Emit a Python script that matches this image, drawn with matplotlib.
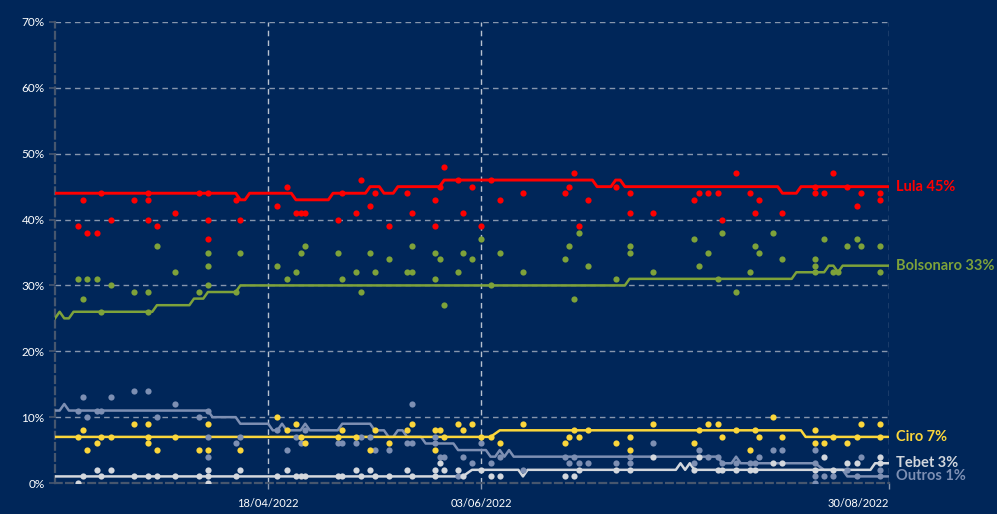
import matplotlib
matplotlib.use('Agg')
import matplotlib.pyplot as plt
from datetime import datetime

plt.rcParams['font.family'] = ['Lato', 'DejaVu Sans']

BG = '#002659'
GRID = '#8796ad'
AXIS = '#46566e'


def dt(s):
    return datetime.strptime(s + '/2022', '%d/%m/%Y')


# poll results (date, %)
lula_polls = [('08/03', 39), ('09/03', 43), ('10/03', 38), ('12/03', 38), ('13/03', 44), ('15/03', 40),
              ('20/03', 43), ('23/03', 44), ('23/03', 43), ('23/03', 40), ('25/03', 39), ('29/03', 41),
              ('03/04', 44), ('05/04', 44), ('05/04', 40), ('05/04', 37), ('11/04', 43), ('12/04', 40),
              ('20/04', 42), ('22/04', 45), ('24/04', 41), ('25/04', 41), ('26/04', 41), ('03/05', 40),
              ('04/05', 44), ('07/05', 41), ('08/05', 46), ('10/05', 42), ('11/05', 44), ('14/05', 39),
              ('18/05', 44), ('19/05', 41), ('24/05', 43), ('24/05', 39), ('25/05', 45), ('26/05', 48),
              ('29/05', 46), ('30/05', 41), ('01/06', 45), ('03/06', 39), ('05/06', 46), ('07/06', 43),
              ('12/06', 44), ('21/06', 44), ('22/06', 45), ('23/06', 47), ('24/06', 39), ('26/06', 43),
              ('02/07', 45), ('05/07', 44), ('05/07', 41), ('10/07', 41), ('19/07', 43), ('20/07', 44),
              ('22/07', 44), ('24/07', 44), ('25/07', 40), ('28/07', 47), ('31/07', 44), ('01/08', 41),
              ('02/08', 43), ('07/08', 41), ('14/08', 45), ('14/08', 44), ('16/08', 44), ('18/08', 47),
              ('21/08', 45), ('23/08', 42), ('24/08', 44), ('28/08', 44), ('28/08', 43)]

bolsonaro_polls = [('08/03', 31), ('09/03', 28), ('10/03', 31), ('12/03', 31), ('13/03', 26), ('15/03', 30),
                   ('20/03', 29), ('23/03', 29), ('23/03', 26), ('25/03', 36), ('29/03', 32), ('03/04', 29),
                   ('05/04', 35), ('05/04', 33), ('05/04', 30), ('11/04', 29), ('12/04', 35), ('20/04', 33),
                   ('22/04', 31), ('24/04', 32), ('25/04', 35), ('26/04', 36), ('03/05', 35), ('04/05', 31),
                   ('07/05', 32), ('08/05', 29), ('10/05', 35), ('11/05', 32), ('14/05', 34), ('18/05', 32),
                   ('19/05', 32), ('19/05', 36), ('24/05', 35), ('24/05', 31), ('25/05', 34), ('26/05', 27),
                   ('29/05', 32), ('30/05', 35), ('01/06', 34), ('03/06', 37), ('05/06', 30), ('07/06', 35),
                   ('12/06', 32), ('21/06', 34), ('22/06', 36), ('23/06', 28), ('24/06', 38), ('26/06', 33),
                   ('02/07', 31), ('05/07', 36), ('05/07', 35), ('10/07', 32), ('19/07', 37), ('20/07', 33),
                   ('22/07', 35), ('24/07', 31), ('25/07', 38), ('28/07', 29), ('31/07', 32), ('01/08', 36),
                   ('02/08', 35), ('05/08', 38), ('07/08', 34), ('14/08', 34), ('14/08', 33), ('14/08', 32),
                   ('16/08', 37), ('18/08', 32), ('19/08', 32), ('21/08', 36), ('23/08', 37), ('24/08', 36),
                   ('28/08', 36), ('28/08', 32)]

ciro_polls = [('08/03', 7), ('09/03', 8), ('10/03', 5), ('12/03', 6), ('13/03', 7), ('15/03', 7),
              ('20/03', 9), ('23/03', 9), ('23/03', 7), ('23/03', 6), ('25/03', 5), ('29/03', 7),
              ('03/04', 5), ('05/04', 9), ('05/04', 5), ('12/04', 5), ('20/04', 10), ('22/04', 8),
              ('24/04', 9), ('25/04', 7), ('26/04', 6), ('03/05', 7), ('04/05', 8), ('07/05', 7),
              ('10/05', 5), ('11/05', 8), ('14/05', 6), ('18/05', 8), ('19/05', 9), ('24/05', 8),
              ('24/05', 5), ('25/05', 8), ('26/05', 7), ('29/05', 9), ('30/05', 8), ('01/06', 9),
              ('03/06', 7), ('05/06', 7), ('07/06', 6), ('12/06', 9), ('21/06', 6), ('22/06', 7),
              ('23/06', 8), ('24/06', 7), ('26/06', 8), ('02/07', 6), ('05/07', 7), ('05/07', 5),
              ('10/07', 9), ('19/07', 6), ('20/07', 8), ('22/07', 9), ('24/07', 9), ('25/07', 7),
              ('28/07', 8), ('31/07', 5), ('01/08', 8), ('02/08', 7), ('05/08', 10), ('07/08', 7),
              ('14/08', 8), ('14/08', 6), ('16/08', 6), ('18/08', 7), ('21/08', 6), ('23/08', 7),
              ('24/08', 9), ('28/08', 9), ('28/08', 7)]

tebet_polls = [('08/03', 0), ('09/03', 1), ('12/03', 2), ('13/03', 1), ('15/03', 2), ('20/03', 1),
               ('23/03', 1), ('25/03', 1), ('29/03', 1), ('03/04', 1), ('05/04', 2), ('05/04', 1),
               ('05/04', 0), ('11/04', 1), ('12/04', 2), ('20/04', 1), ('22/04', 2), ('24/04', 1),
               ('25/04', 1), ('26/04', 1), ('03/05', 1), ('04/05', 1), ('07/05', 2), ('08/05', 1),
               ('10/05', 2), ('11/05', 1), ('14/05', 1), ('18/05', 2), ('19/05', 1), ('24/05', 2),
               ('24/05', 1), ('25/05', 3), ('26/05', 2), ('29/05', 2), ('30/05', 1), ('03/06', 2),
               ('05/06', 1), ('07/06', 1), ('21/06', 1), ('23/06', 1), ('24/06', 2), ('02/07', 2),
               ('05/07', 2), ('10/07', 4), ('19/07', 2), ('20/07', 4), ('24/07', 2), ('25/07', 2),
               ('28/07', 2), ('31/07', 2), ('01/08', 2), ('05/08', 3), ('07/08', 3), ('14/08', 2),
               ('16/08', 4), ('18/08', 2), ('21/08', 3), ('23/08', 3), ('28/08', 4), ('28/08', 3)]

outros_polls = [('08/03', 11), ('09/03', 13), ('10/03', 10), ('12/03', 11), ('13/03', 11), ('15/03', 13),
                ('20/03', 14), ('23/03', 14), ('25/03', 10), ('29/03', 12), ('03/04', 10), ('05/04', 11),
                ('05/04', 7), ('05/04', 4), ('11/04', 6), ('12/04', 7), ('20/04', 8), ('22/04', 5),
                ('24/04', 7), ('25/04', 6), ('26/04', 8), ('03/05', 6), ('04/05', 6), ('07/05', 6),
                ('08/05', 7), ('10/05', 7), ('11/05', 5), ('14/05', 5), ('18/05', 6), ('19/05', 6),
                ('19/05', 12), ('24/05', 7), ('24/05', 6), ('25/05', 4), ('26/05', 4), ('29/05', 1),
                ('30/05', 4), ('01/06', 3), ('03/06', 6), ('05/06', 3), ('07/06', 4), ('12/06', 2),
                ('21/06', 4), ('22/06', 3), ('23/06', 4), ('24/06', 3), ('26/06', 3), ('02/07', 3),
                ('05/07', 4), ('05/07', 3), ('10/07', 6), ('19/07', 3), ('20/07', 5), ('22/07', 4),
                ('24/07', 4), ('25/07', 3), ('28/07', 3), ('31/07', 3), ('01/08', 3), ('02/08', 4),
                ('05/08', 5), ('07/08', 5), ('14/08', 5), ('14/08', 3), ('14/08', 1), ('14/08', 0),
                ('16/08', 1), ('18/08', 1), ('21/08', 2), ('23/08', 1), ('24/08', 4), ('28/08', 2),
                ('28/08', 1)]

# trend line (aggregate), vertices
lula_trend = [('03/03', 44), ('11/04', 44), ('12/04', 43), ('13/04', 43), ('14/04', 44), ('23/04', 44),
              ('24/04', 43), ('01/05', 43), ('02/05', 44), ('09/05', 44), ('10/05', 45), ('12/05', 45),
              ('13/05', 44), ('15/05', 44), ('16/05', 45), ('25/05', 45), ('26/05', 46), ('27/06', 46),
              ('28/06', 45), ('01/07', 45), ('02/07', 46), ('03/07', 46), ('04/07', 45), ('06/08', 45),
              ('07/08', 44), ('10/08', 44), ('11/08', 45), ('30/08', 45)]

bolsonaro_trend = [('03/03', 25), ('04/03', 26), ('05/03', 25), ('06/03', 25), ('07/03', 26), ('24/03', 26),
                   ('25/03', 27), ('01/04', 27), ('02/04', 28), ('04/04', 28), ('05/04', 29), ('11/04', 29),
                   ('12/04', 30), ('04/07', 30), ('05/07', 31), ('09/08', 31), ('10/08', 32), ('16/08', 32),
                   ('17/08', 33), ('18/08', 33), ('19/08', 32), ('20/08', 33), ('30/08', 33)]

ciro_trend = [('03/03', 7), ('05/06', 7), ('07/06', 8), ('11/08', 8), ('12/08', 7), ('30/08', 7)]

tebet_trend = [('03/03', 1), ('30/05', 1), ('01/06', 2), ('11/06', 2), ('12/06', 1), ('13/06', 2),
               ('15/07', 2), ('16/07', 3), ('17/07', 2), ('18/07', 3), ('19/07', 2), ('26/08', 2),
               ('27/08', 3), ('30/08', 3)]

outros_trend = [('03/03', 11), ('04/03', 11), ('05/03', 12), ('06/03', 11), ('05/04', 11), ('06/04', 10),
                ('11/04', 10), ('12/04', 9), ('18/04', 9), ('19/04', 8), ('20/04', 8), ('21/04', 9),
                ('22/04', 8), ('25/04', 8), ('26/04', 9), ('27/04', 8), ('03/05', 8), ('04/05', 9),
                ('10/05', 9), ('11/05', 8), ('13/05', 8), ('14/05', 7), ('15/05', 7), ('16/05', 8),
                ('17/05', 8), ('18/05', 7), ('21/05', 7), ('22/05', 6), ('28/05', 6), ('29/05', 5),
                ('04/06', 5), ('05/06', 4), ('06/06', 4), ('07/06', 5), ('08/06', 4), ('09/06', 5),
                ('10/06', 4), ('24/07', 4), ('25/07', 3), ('27/07', 3), ('28/07', 4), ('29/07', 3),
                ('14/08', 3), ('16/08', 2), ('20/08', 2), ('21/08', 1), ('30/08', 1)]

names = ['Outros', 'Tebet', 'Ciro', 'Bolsonaro', 'Lula']
colors = ['#7d8fb3', '#d3d7dd', '#fbd63b', '#7ea23a', '#ff0000']
widths = [1.8, 1.8, 1.8, 1.8, 2.1]
polls = [outros_polls, tebet_polls, ciro_polls, bolsonaro_polls, lula_polls]
trends = [outros_trend, tebet_trend, ciro_trend, bolsonaro_trend, lula_trend]

x_start, x_end = '03/03', '30/08'
xtick_dates = ['18/04', '03/06', '30/08']
xtick_labels = ['18/04/2022', '03/06/2022', '30/08/2022']

fig = plt.figure(figsize=(9.97, 5.14), dpi=100, facecolor=BG)
ax = fig.add_axes([55 / 997, 31 / 514, 834 / 997, 461 / 514])
ax.set_facecolor(BG)

for name, c, lw, pl, tr in zip(names, colors, widths, polls, trends):
    ax.scatter([dt(d) for d, v in pl], [v for d, v in pl], s=20, color=c, linewidths=0, zorder=4)
    ax.plot([dt(d) for d, v in tr], [v for d, v in tr], color=c, lw=lw, zorder=3)
    last = tr[-1][1]
    ax.annotate('%s %d%%' % (name, last), xy=(1, last), xycoords=('axes fraction', 'data'),
                xytext=(5, 0), textcoords='offset points', va='center', ha='left',
                color=c, fontsize=10.5, fontweight='bold', annotation_clip=False)

ax.set_xlim(dt(x_start), dt(x_end))
ax.set_ylim(0, 70)

# grid
for v in range(10, 80, 10):
    ax.axhline(v, color=GRID, lw=1, dashes=(4, 3), zorder=1)
for d in xtick_dates:
    ax.axvline(dt(d), color='#b8c2d0' if d != '30/08' else GRID, lw=1, dashes=(4, 3), zorder=1)

for s in ['top', 'right']:
    ax.spines[s].set_visible(False)
for s in ['left', 'bottom']:
    ax.spines[s].set_color(AXIS)
    ax.spines[s].set_linewidth(1.6)
    ax.spines[s].set_linestyle((0, (3, 2)))

ax.set_yticks(range(0, 80, 10))
ax.set_yticklabels(['%d%%' % v for v in range(0, 80, 10)])
ax.set_xticks([dt(d) for d in xtick_dates])
ax.set_xticklabels(xtick_labels)
ax.get_xticklabels()[-1].set_ha('right')
ax.tick_params(axis='y', length=4.5, width=1.2, color=AXIS, labelcolor='white', labelsize=8.5, pad=3)
ax.tick_params(axis='x', length=4.5, width=1, color=GRID, labelcolor='white', labelsize=8, pad=6)

fig.savefig('out.png', dpi=100, facecolor=BG)
